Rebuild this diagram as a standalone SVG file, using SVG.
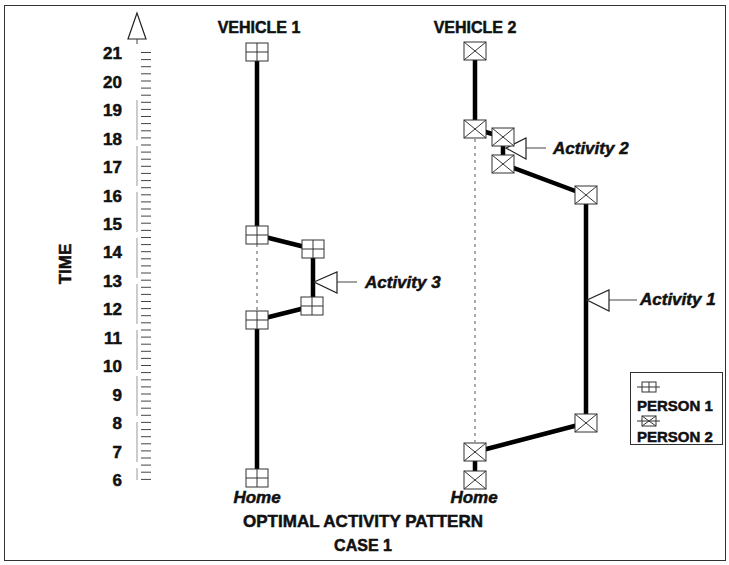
<svg xmlns="http://www.w3.org/2000/svg" width="729" height="565" viewBox="0 0 729 565">
<style>
text{font-family:"Liberation Sans",Arial,sans-serif;font-weight:bold;fill:#111;stroke:#111;stroke-width:0.5}
.num{font-size:17px;text-anchor:end}
.hdr{font-size:16px;text-anchor:middle}
.act{font-size:17px;font-style:italic}
.home{font-size:17px;font-style:italic;text-anchor:middle}
.leg{font-size:15px}
.route{fill:none;stroke:#000;stroke-width:4.5;stroke-linejoin:round}
.gap{stroke:#555;stroke-width:1;stroke-dasharray:3,4}
.tri{fill:#fff;stroke:#222;stroke-width:1.2}
.lead{stroke:#444;stroke-width:1}
.box{fill:#fff;stroke:#333;stroke-width:1}
.in{stroke:#333;stroke-width:1;fill:none}
.tick{stroke:#444;stroke-width:1}
</style>
<defs>
<g id="p1"><rect class="box" x="-11" y="-9" width="22" height="18"/><path class="in" d="M0,-9V9M-11,0H11"/></g>
<g id="p2"><rect class="box" x="-11" y="-9" width="22" height="18"/><path class="in" d="M-11,-9L11,9M11,-9L-11,9"/></g>
</defs>
<rect x="4.5" y="5.5" width="721" height="555" fill="#fff" stroke="#333" stroke-width="1"/>

<g id="axis">
<polygon class="tri" points="137,13 128,39 146,39"/>
<line class="tick" x1="137" y1="39" x2="137" y2="44"/>
<line x1="137" y1="100" x2="137" y2="480" stroke="#999" stroke-width="1" stroke-dasharray="40,6"/>
<path class="tick" d="M141,52.5h10M141,59.6h10M141,66.7h10M141,73.8h10M141,81h10M141,88.1h10M141,95.2h10M141,102.3h10M141,109.4h10M141,116.5h10M141,123.6h10M141,130.8h10M141,137.9h10M141,145h10M141,152.1h10M141,159.2h10M141,166.3h10M141,173.4h10M141,180.6h10M141,187.7h10M141,194.8h10M141,201.9h10M141,209h10M141,216.1h10M141,223.2h10M141,230.4h10M141,237.5h10M141,244.6h10M141,251.7h10M141,258.8h10M141,265.9h10M141,273h10M141,280.2h10M141,287.3h10M141,294.4h10M141,301.5h10M141,308.6h10M141,315.7h10M141,322.8h10M141,330h10M141,337.1h10M141,344.2h10M141,351.3h10M141,358.4h10M141,365.5h10M141,372.6h10M141,379.8h10M141,386.9h10M141,394h10M141,401.1h10M141,408.2h10M141,415.3h10M141,422.4h10M141,429.6h10M141,436.7h10M141,443.8h10M141,450.9h10M141,458h10M141,465.1h10M141,472.2h10M141,479.4h10"/>
<text class="num" x="122" y="59">21</text>
<text class="num" x="122" y="88">20</text>
<text class="num" x="122" y="116">19</text>
<text class="num" x="122" y="145">18</text>
<text class="num" x="122" y="173">17</text>
<text class="num" x="122" y="202">16</text>
<text class="num" x="122" y="230">15</text>
<text class="num" x="122" y="258">14</text>
<text class="num" x="122" y="287">13</text>
<text class="num" x="122" y="315">12</text>
<text class="num" x="122" y="344">11</text>
<text class="num" x="122" y="372">10</text>
<text class="num" x="122" y="401">9</text>
<text class="num" x="122" y="429">8</text>
<text class="num" x="122" y="458">7</text>
<text class="num" x="122" y="486">6</text>
<text x="0" y="0" font-size="17" text-anchor="middle" transform="translate(71,264) rotate(-90)">TIME</text>
</g>

<g id="headers">
<text class="hdr" x="259" y="33">VEHICLE 1</text>
<text class="hdr" x="475" y="33">VEHICLE 2</text>
</g>

<g id="connectors">
<line class="gap" x1="257" y1="244" x2="257" y2="310"/>
<line class="gap" x1="475" y1="139" x2="475" y2="442"/>
<polyline class="route" points="257,53 257,235 313,249 313,306 257,320 257,478"/>
<polyline class="route" points="475,53 475,129 503,137 503,164 586,195 586,423 475,452 475,480"/>
<polygon class="tri" points="314,282 337,272 337,293"/>
<line class="lead" x1="337" y1="282" x2="357" y2="282"/>
<polygon class="tri" points="506,148 526,138 526,159"/>
<line class="lead" x1="526" y1="148" x2="546" y2="148"/>
<polygon class="tri" points="587,300 609,290 609,311"/>
<line class="lead" x1="609" y1="300" x2="637" y2="300"/>
</g>

<g id="v1-nodes">
<use href="#p1" x="257" y="52"/>
<use href="#p1" x="257" y="235"/>
<use href="#p1" x="313" y="249"/>
<use href="#p1" x="312" y="306"/>
<use href="#p1" x="257" y="320"/>
<use href="#p1" x="257" y="478"/>
</g>
<g id="v2-nodes">
<use href="#p2" x="475" y="51"/>
<use href="#p2" x="475" y="129"/>
<use href="#p2" x="503" y="137"/>
<use href="#p2" x="503" y="164"/>
<use href="#p2" x="586" y="195"/>
<use href="#p2" x="586" y="423"/>
<use href="#p2" x="475" y="452"/>
<use href="#p2" x="475" y="480"/>
</g>

<g id="activity-labels">
<text class="act" x="365" y="288">Activity 3</text>
<text class="act" x="553" y="154">Activity 2</text>
<text class="act" x="640" y="305">Activity 1</text>
</g>

<g id="home-labels">
<text class="home" x="257" y="503">Home</text>
<text class="home" x="474" y="503">Home</text>
</g>

<g id="legend">
<rect x="630.5" y="372.5" width="92" height="72" fill="#fff" stroke="#333" stroke-width="1"/>
<rect class="box" x="642" y="382" width="14" height="10"/><path class="in" d="M637,387H660M649,382V392"/>
<text class="leg" x="637" y="411">PERSON 1</text>
<rect class="box" x="642" y="416" width="14" height="10"/><path class="in" d="M637,421H660M642,416L656,426M656,416L642,426"/>
<text class="leg" x="637" y="442">PERSON 2</text>
</g>

<g id="titles">
<text x="363" y="527" font-size="17" text-anchor="middle">OPTIMAL ACTIVITY PATTERN</text>
<text x="363" y="551" font-size="16" text-anchor="middle">CASE 1</text>
</g>
</svg>
